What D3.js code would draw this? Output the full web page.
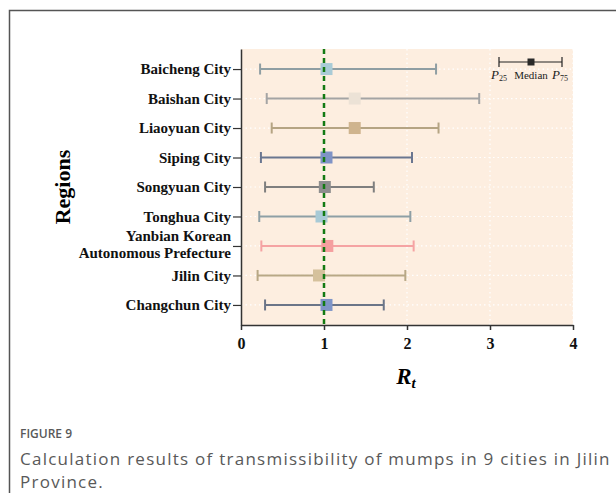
<!DOCTYPE html>
<html>
<head>
<meta charset="utf-8">
<script src="https://d3js.org/d3.v7.min.js"></script>
<style>
  body { margin: 0; background: #fff; }
  svg { display: block; }
  .axis text { font-family: "Liberation Serif", "Times New Roman", serif; font-weight: bold; fill: #111; }
  .caption { font-family: "Open Sans", "Noto Sans", sans-serif; fill: #595959; }
</style>
</head>
<body>
<svg id="chart"></svg>
<script>
// regions, top to bottom
var regions = ["Baicheng City", "Baishan City", "Liaoyuan City", "Siping City", "Songyuan City",
  "Tonghua City", "Yanbian Korean|Autonomous Prefecture", "Jilin City", "Changchun City"];
// Rt percentiles
var p25 = [0.23, 0.31, 0.37, 0.24, 0.29, 0.22, 0.245, 0.20, 0.29];
var median = [1.03, 1.37, 1.37, 1.03, 1.01, 0.97, 1.04, 0.94, 1.03];
var p75 = [2.35, 2.87, 2.38, 2.06, 1.60, 2.04, 2.08, 1.98, 1.72];
var boxColors = ["#a9cbd6", "#ece2d6", "#cfb48e", "#7f93c6", "#8e8e8e", "#a8cad6", "#f59f9f", "#d5c19c", "#7f95c8"];
var lineColors = ["#8f9ea3", "#a4a4a4", "#b5a483", "#6a7690", "#7f7f7f", "#8e9fa5", "#f5a3a3", "#b8a886", "#6b7588"];
var xTicks = [0, 1, 2, 3, 4];

var W = 616, H = 493;
var svg = d3.select("#chart").attr("width", W).attr("height", H);

// frame around figure
svg.append("path")
  .attr("d", "M9.5," + (H + 2) + " V10.5 H" + (W + 2))
  .attr("fill", "none").attr("stroke", "#555").attr("stroke-width", 1.5);

var x = d3.scaleLinear().domain([0, 4]).range([241, 573]);
var y = d3.scalePoint().domain(regions).range([49, 325]).padding(0.68);

// plot background
svg.append("rect")
  .attr("x", x(0)).attr("y", 49)
  .attr("width", x(4) - x(0)).attr("height", 325 - 49)
  .attr("fill", "#fdeee0");

// dotted white grid
svg.append("g").selectAll("line").data(xTicks.slice(1)).enter().append("line")
  .attr("x1", d => x(d)).attr("x2", d => x(d)).attr("y1", 49).attr("y2", 325)
  .attr("stroke", "#fff").attr("stroke-width", 1.2).attr("stroke-dasharray", "1.5,3");
svg.append("g").selectAll("line").data(regions).enter().append("line")
  .attr("x1", x(0)).attr("x2", x(4)).attr("y1", d => y(d)).attr("y2", d => y(d))
  .attr("stroke", "#fff").attr("stroke-width", 1.2).attr("stroke-dasharray", "1.5,3");

// error bars
var rows = svg.append("g").selectAll("g").data(regions).enter().append("g")
  .attr("transform", d => "translate(0," + y(d) + ")");
rows.append("line")
  .attr("x1", (d, i) => x(p25[i])).attr("x2", (d, i) => x(p75[i]))
  .attr("stroke", (d, i) => lineColors[i]).attr("stroke-width", 2);
rows.append("line")
  .attr("x1", (d, i) => x(p25[i])).attr("x2", (d, i) => x(p25[i])).attr("y1", -5.5).attr("y2", 5.5)
  .attr("stroke", (d, i) => lineColors[i]).attr("stroke-width", 2);
rows.append("line")
  .attr("x1", (d, i) => x(p75[i])).attr("x2", (d, i) => x(p75[i])).attr("y1", -5.5).attr("y2", 5.5)
  .attr("stroke", (d, i) => lineColors[i]).attr("stroke-width", 2);
rows.append("rect")
  .attr("x", (d, i) => x(median[i]) - 6).attr("y", -6).attr("width", 12).attr("height", 12)
  .attr("fill", (d, i) => boxColors[i]);

// reference line Rt = 1
svg.append("line")
  .attr("x1", x(1)).attr("x2", x(1)).attr("y1", 49).attr("y2", 325)
  .attr("stroke", "#137a13").attr("stroke-width", 2.5).attr("stroke-dasharray", "5,4");

// axes
var xAxis = svg.append("g").attr("class", "axis")
  .attr("transform", "translate(0,325)")
  .call(d3.axisBottom(x).tickValues(xTicks).tickFormat(d3.format("d")).tickSize(5).tickSizeOuter(0));
xAxis.selectAll("text").attr("font-size", 16).attr("dy", "1.0em");
xAxis.select(".domain").attr("stroke", "#333").attr("stroke-width", 1.5);
xAxis.selectAll(".tick line").attr("stroke", "#333").attr("stroke-width", 1.5);

var yAxis = svg.append("g").attr("class", "axis")
  .attr("transform", "translate(" + x(0) + ",0)")
  .call(d3.axisLeft(y).tickSize(8).tickSizeOuter(0).tickFormat(""));
yAxis.select(".domain").attr("stroke", "#333").attr("stroke-width", 1.5);
yAxis.selectAll(".tick line").attr("stroke", "#333").attr("stroke-width", 1.2);
yAxis.selectAll(".tick").append("text")
  .attr("x", -10).attr("text-anchor", "end").attr("font-size", 15)
  .each(function(d) {
    var parts = d.split("|");
    var t = d3.select(this);
    parts.forEach(function(p, k) {
      t.append("tspan").attr("x", -10)
        .attr("dy", parts.length === 1 ? "0.32em" : (k === 0 ? "-0.35em" : "1.1em"))
        .text(p);
    });
  });

// axis titles
svg.append("text")
  .attr("transform", "translate(70,187) rotate(-90)")
  .attr("text-anchor", "middle")
  .style("font-family", "Liberation Serif, serif").style("font-weight", "bold").style("font-size", "22px")
  .text("Regions");
var rt = svg.append("text")
  .attr("x", 406).attr("y", 384).attr("text-anchor", "middle")
  .style("font-family", "Liberation Serif, serif").style("font-weight", "bold")
  .style("font-style", "italic").style("font-size", "23px");
rt.append("tspan").text("R");
rt.append("tspan").attr("dy", 4).style("font-size", "15px").text("t");

// legend
var lg = svg.append("g").attr("transform", "translate(0,62)");
lg.append("line").attr("x1", 499).attr("x2", 562).attr("stroke", "#222").attr("stroke-width", 1.2);
lg.append("line").attr("x1", 499).attr("x2", 499).attr("y1", -5).attr("y2", 5).attr("stroke", "#222").attr("stroke-width", 1.2);
lg.append("line").attr("x1", 562).attr("x2", 562).attr("y1", -5).attr("y2", 5).attr("stroke", "#222").attr("stroke-width", 1.2);
lg.append("rect").attr("x", 527.5).attr("y", -3.5).attr("width", 7).attr("height", 7).attr("fill", "#2a2a2a");
var legText = [["P", "25", 499], ["Median", "", 531], ["P", "75", 560]];
legText.forEach(function(l) {
  var t = lg.append("text").attr("x", l[2]).attr("y", 17).attr("text-anchor", "middle")
    .style("font-family", "Liberation Serif, serif").attr("fill", "#222");
  t.append("tspan").style("font-style", l[1] ? "italic" : "normal").style("font-size", l[1] ? "13px" : "11px").text(l[0]);
  if (l[1]) t.append("tspan").attr("dy", 2).style("font-size", "8px").text(l[1]);
});

// caption
svg.append("text").attr("class", "caption")
  .attr("x", 20).attr("y", 438).style("font-size", "12px").style("font-weight", "600").attr("fill", "#666")
  .text("FIGURE 9");
svg.append("text").attr("class", "caption").attr("x", 20).attr("y", 465)
  .style("font-size", "17px").style("letter-spacing", "1.25px")
  .text("Calculation results of transmissibility of mumps in 9 cities in Jilin");
svg.append("text").attr("class", "caption").attr("x", 20).attr("y", 488)
  .style("font-size", "17px").style("letter-spacing", "1.25px")
  .text("Province.");
</script>
</body>
</html>
